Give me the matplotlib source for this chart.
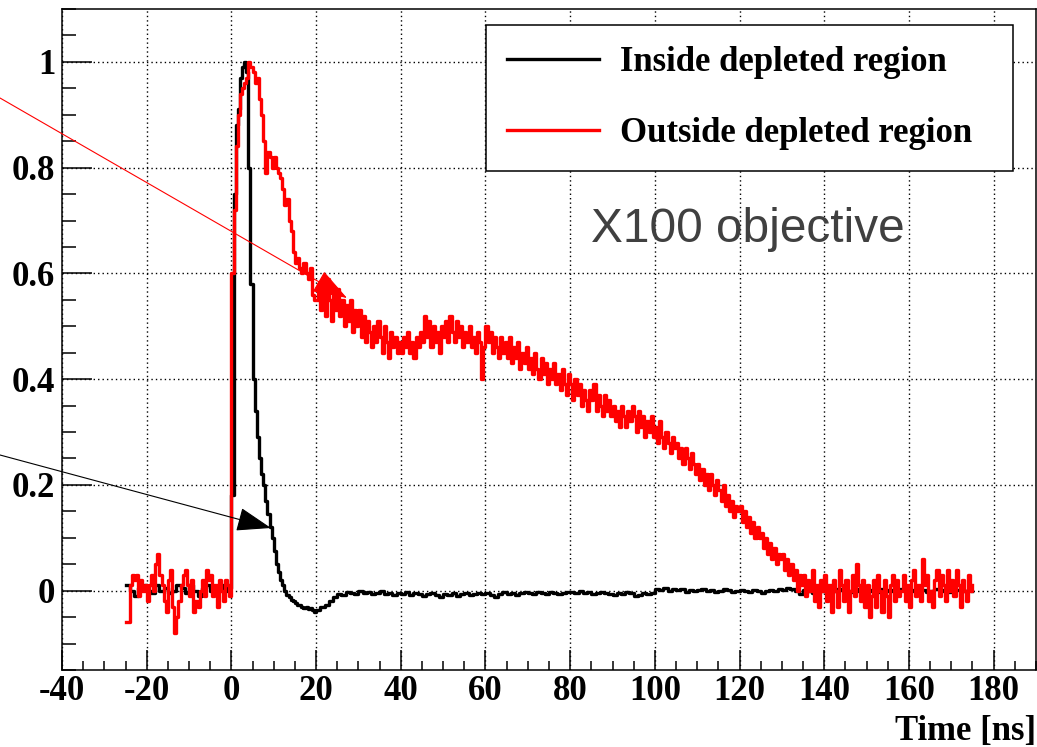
import numpy as np
import matplotlib
matplotlib.use("Agg")
import matplotlib.pyplot as plt
from matplotlib.ticker import MultipleLocator, FuncFormatter

plt.rcParams["axes.unicode_minus"] = False
plt.rcParams["font.family"] = ["Liberation Serif", "DejaVu Serif"]
plt.rcParams["font.weight"] = "bold"

# Inside depleted region (black): 1 ns bins, 0.5 ns around the peak
in_time_pre = np.arange(-25, 0, 1.0)
in_time_peak = np.arange(0, 20, 0.5)
in_time_tail = np.arange(20, 176, 1.0)

inside_pre = [0.01, 0.0, -0.01, 0.005, 0.01, 0.0, -0.005, 0.01, 0.0, 0.005,
              -0.005, 0.0, 0.01, 0.005, -0.005, 0.01, 0.0, -0.01, 0.005, 0.01,
              0.0, 0.005, 0.01, 0.0, 0.005]
inside_peak = [0.18, 0.75, 0.88, 0.91, 0.97, 0.99, 1.00, 0.98, 0.80, 0.58,
               0.40, 0.34, 0.29, 0.25, 0.22, 0.20, 0.17, 0.145, 0.12, 0.10,
               0.075, 0.05, 0.035, 0.02, 0.01, 0.0, -0.008, -0.012, -0.018, -0.02,
               -0.024, -0.028, -0.027, -0.03, -0.032, -0.03, -0.034, -0.033, -0.036, -0.04]
inside_tail = [-0.036, -0.03, -0.028, -0.02, -0.012, -0.006, -0.008, -0.002, -0.004, -0.006,
               0.0, -0.004, -0.002, -0.006, -0.004, 0.0, -0.006, -0.004, -0.008, -0.004,
               -0.006, -0.002, -0.008, -0.004, -0.006, -0.01, -0.006, -0.004, -0.008, -0.012,
               -0.006, -0.008, -0.004, -0.01, -0.006, -0.004, -0.008, -0.006, -0.004, -0.006,
               -0.004, -0.008, -0.012, -0.006, -0.002, -0.006, -0.004, -0.008, -0.004, -0.002,
               -0.004, -0.006, -0.002, -0.004, -0.006, -0.002, -0.004, -0.006, -0.004, -0.002,
               -0.002, -0.004, 0.0, -0.004, -0.002, -0.006, -0.004, -0.002, -0.004, -0.006,
               -0.008, -0.004, -0.006, -0.002, -0.004, -0.01, -0.008, -0.004, -0.006, -0.004,
               0.004, 0.002, 0.006, 0.0, 0.004, 0.002, 0.004, -0.002, 0.002, 0.0,
               0.002, 0.004, 0.0, 0.002, -0.002, 0.0, 0.004, 0.002, -0.002, 0.0,
               0.002, 0.0, -0.002, 0.002, 0.0, -0.004, 0.0, 0.002, 0.0, 0.004,
               0.002, 0.006, 0.004, 0.0, -0.006, 0.002, 0.0, -0.004, 0.002, 0.0,
               0.002, -0.002, 0.0, 0.004, 0.002, 0.0, -0.002, 0.004, 0.0, 0.002,
               0.0, 0.002, -0.002, 0.004, 0.0, 0.002, 0.0, -0.002, 0.004, 0.0,
               0.002, 0.0, 0.004, 0.002, -0.002, 0.0, 0.004, 0.0, 0.002, -0.002,
               0.0, 0.002, 0.004, 0.0, 0.002, 0.0]

# Outside depleted region (red): 0.5 ns bins
out_time_pre = np.arange(-25, 0, 0.5)
out_time_peak = np.arange(0, 20, 0.5)
out_time_tail = np.arange(20, 175.25, 0.5)

outside_pre = [-0.06, -0.06, 0.01, 0.03, 0.02, 0.03, -0.01, 0.02, 0.00, 0.01,
               -0.02, 0.01, 0.03, 0.00, 0.05, 0.07, 0.03, 0.01, -0.02, -0.04,
               0.02, 0.04, -0.03, -0.08, -0.05, -0.02, 0.01, 0.03, 0.04, 0.01,
               -0.01, 0.02, -0.04, -0.02, -0.03, 0.00, 0.02, -0.01, 0.04, 0.02,
               0.03, -0.01, 0.01, -0.03, 0.02, 0.00, -0.02, 0.02, 0.01, -0.01]
outside_peak = [0.60, 0.72, 0.84, 0.90, 0.94, 0.95, 0.96, 0.97, 1.00, 0.99,
                0.98, 0.96, 0.97, 0.93, 0.90, 0.85, 0.79, 0.83, 0.82, 0.80,
                0.82, 0.80, 0.79, 0.78, 0.76, 0.73, 0.74, 0.70, 0.68, 0.64,
                0.62, 0.63, 0.61, 0.60, 0.62, 0.60, 0.59, 0.61, 0.56, 0.55]
outside_tail = [0.55, 0.58, 0.53, 0.57, 0.52, 0.59, 0.55, 0.51, 0.56, 0.53,
                0.57, 0.52, 0.55, 0.50, 0.54, 0.51, 0.55, 0.49, 0.53, 0.50,
                0.53, 0.48, 0.52, 0.47, 0.51, 0.49, 0.46, 0.50, 0.47, 0.51,
                0.48, 0.45, 0.50, 0.47, 0.44, 0.49, 0.46, 0.48, 0.45, 0.47,
                0.45, 0.48, 0.46, 0.49, 0.45, 0.47, 0.44, 0.48, 0.46, 0.49,
                0.47, 0.52, 0.48, 0.51, 0.46, 0.50, 0.47, 0.49, 0.45, 0.50,
                0.48, 0.51, 0.47, 0.52, 0.49, 0.47, 0.51, 0.48, 0.50, 0.46,
                0.49, 0.47, 0.50, 0.46, 0.48, 0.45, 0.49, 0.47, 0.40, 0.46,
                0.50, 0.47, 0.49, 0.45, 0.48, 0.46, 0.44, 0.48, 0.45, 0.47,
                0.44, 0.48, 0.43, 0.46, 0.44, 0.47, 0.42, 0.45, 0.43, 0.46,
                0.42, 0.44, 0.41, 0.45, 0.42, 0.40, 0.44, 0.41, 0.43, 0.39,
                0.42, 0.40, 0.43, 0.39, 0.41, 0.38, 0.42, 0.39, 0.37, 0.41,
                0.39, 0.36, 0.40, 0.37, 0.39, 0.35, 0.38, 0.36, 0.34, 0.38,
                0.36, 0.39, 0.34, 0.37, 0.35, 0.33, 0.37, 0.34, 0.36, 0.33,
                0.35, 0.32, 0.34, 0.31, 0.35, 0.33, 0.31, 0.34, 0.32, 0.35,
                0.33, 0.30, 0.34, 0.31, 0.33, 0.29, 0.32, 0.30, 0.33, 0.29,
                0.31, 0.28, 0.32, 0.29, 0.27, 0.30, 0.28, 0.26, 0.29, 0.27,
                0.28, 0.25, 0.27, 0.24, 0.27, 0.25, 0.23, 0.26, 0.24, 0.22,
                0.24, 0.21, 0.23, 0.20, 0.22, 0.19, 0.22, 0.20, 0.18, 0.21,
                0.19, 0.17, 0.20, 0.16, 0.18, 0.15, 0.17, 0.14, 0.16, 0.15,
                0.16, 0.13, 0.15, 0.12, 0.14, 0.11, 0.13, 0.10, 0.12, 0.10,
                0.11, 0.08, 0.10, 0.07, 0.09, 0.06, 0.08, 0.05, 0.07, 0.06,
                0.07, 0.04, 0.06, 0.03, 0.05, 0.02, 0.04, 0.00, 0.03, 0.01,
                0.03, -0.01, 0.02, 0.00, 0.04, -0.02, 0.01, -0.03, 0.02, 0.00,
                0.03, -0.02, 0.01, -0.04, 0.02, 0.00, -0.03, 0.04, 0.01, -0.02,
                0.02, -0.04, 0.00, 0.03, -0.01, 0.05, 0.01, -0.02, 0.02, -0.03,
                0.01, -0.05, -0.01, 0.02, -0.03, 0.03, 0.00, -0.04, 0.02, -0.01,
                -0.05, 0.01, 0.03, -0.02, 0.02, -0.01, 0.00, 0.03, -0.02, 0.01,
                -0.03, 0.02, 0.04, -0.01, 0.01, -0.02, 0.06, 0.01, 0.03, -0.02,
                0.00, -0.03, 0.02, 0.04, -0.01, 0.03, 0.01, -0.02, 0.04, 0.00,
                0.02, -0.01, 0.04, 0.01, -0.03, 0.02, 0.00, -0.02, 0.03, 0.00,
                0.01]

labels = ["Inside depleted region", "Outside depleted region"]

W, H = 1037, 747
fig = plt.figure(figsize=(W / 100, H / 100), dpi=100)
ax = fig.add_axes([62 / W, 1 - 670 / H, 974 / W, 661 / H])

t_in = np.concatenate([in_time_pre, in_time_peak, in_time_tail])
t_out = np.concatenate([out_time_pre, out_time_peak, out_time_tail])
inside = np.concatenate([inside_pre, inside_peak, inside_tail])
outside = np.concatenate([outside_pre, outside_peak, outside_tail])

ax.plot(t_in, inside, drawstyle="steps-post", color="black", lw=2.4, label=labels[0], zorder=3)
ax.plot(t_out, outside, drawstyle="steps-post", color="red", lw=2.4, label=labels[1], zorder=4)

ax.set_xlim(-40, 190)
ax.set_ylim(-0.15, 1.1)

ax.xaxis.set_major_locator(MultipleLocator(20))
ax.xaxis.set_minor_locator(MultipleLocator(5))
ax.yaxis.set_major_locator(MultipleLocator(0.2))
ax.yaxis.set_minor_locator(MultipleLocator(0.05))
fmt = FuncFormatter(lambda v, p: f"{round(v, 6) + 0.0:g}")
ax.xaxis.set_major_formatter(fmt)
ax.yaxis.set_major_formatter(fmt)

ax.tick_params(axis="both", which="both", direction="in", top=False, right=False,
               width=1.1, labelsize=25)
ax.tick_params(axis="x", which="major", length=14.4, pad=3.5)
ax.tick_params(axis="x", which="minor", length=6.5)
ax.tick_params(axis="y", which="major", length=21.6, pad=5)
ax.tick_params(axis="y", which="minor", length=10)
for s in ax.spines.values():
    s.set_linewidth(1.1)

ax.grid(which="major", color="black", linestyle=(0, (1, 2.2)), linewidth=1.0)
ax.set_axisbelow(True)

ax.set_xlabel("Time [ns]", fontsize=25, fontweight="bold", ha="right")
ax.xaxis.set_label_coords(1.0, -70 / 661)
ax.xaxis.label.set_va("baseline")

leg = ax.legend(loc="upper left", bbox_to_anchor=(486 / W, 1 - 169 / H, 527 / W, 144 / H),
                bbox_transform=fig.transFigure, mode="expand", borderaxespad=0,
                fancybox=False, edgecolor="black", framealpha=1,
                borderpad=0.6, labelspacing=1.1, handlelength=2.65, handletextpad=0.62,
                prop={"family": "Liberation Serif", "weight": "bold", "size": 25})
leg.get_frame().set_linewidth(1.1)

fig.text(591 / W, 1 - 242 / H, "X100 objective", fontfamily="Liberation Sans",
         fontweight="normal", fontsize=34.4, color="#404040", va="baseline", ha="left")

# arrows pointing from outside the frame to the two traces
head = "-|>,head_length=1.1,head_width=0.38"
ax.annotate("", xy=(347, H - 298), xycoords="figure pixels",
            xytext=(0, H - 98), textcoords="figure pixels", annotation_clip=False,
            arrowprops=dict(arrowstyle=head, mutation_scale=20, color="red", lw=0.8,
                            shrinkA=0, shrinkB=0), zorder=6)
ax.annotate("", xy=(271, H - 528), xycoords="figure pixels",
            xytext=(0, H - 455), textcoords="figure pixels", annotation_clip=False,
            arrowprops=dict(arrowstyle=head, mutation_scale=20, color="black", lw=0.8,
                            shrinkA=0, shrinkB=0), zorder=6)

fig.savefig("out.png", dpi=100)
